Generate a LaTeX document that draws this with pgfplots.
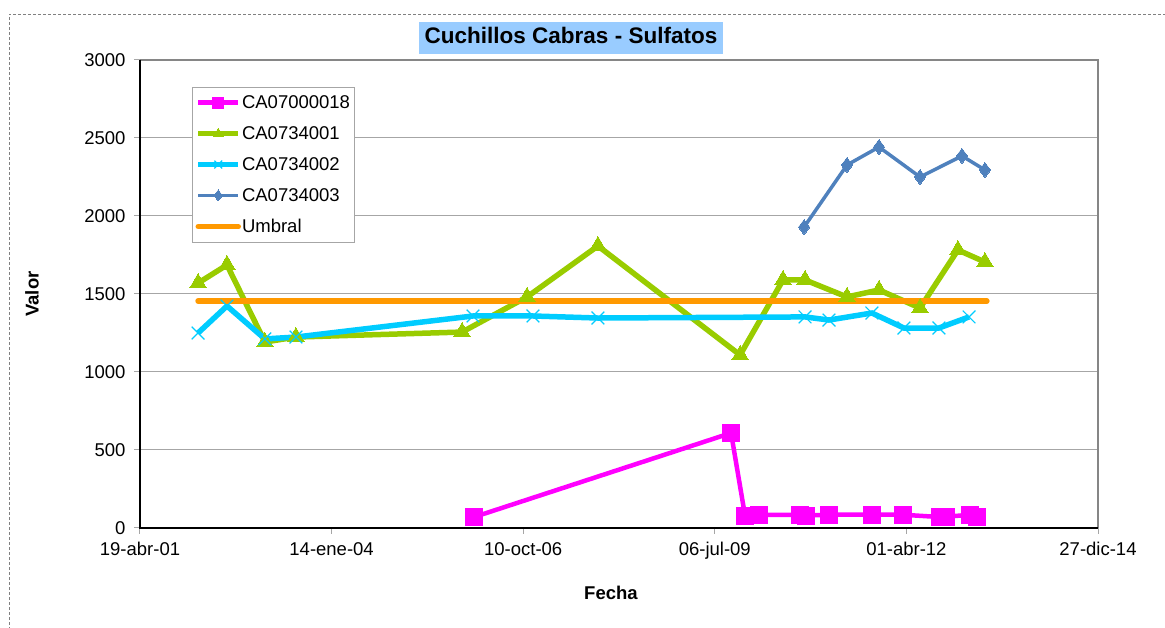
\documentclass[border=0pt]{standalone}
\usepackage{fontspec}
\setmainfont{Liberation Sans}
\usepackage{pgfplots}
\pgfplotsset{compat=1.18}

\definecolor{cMag}{HTML}{FF00FF}
\definecolor{cGreen}{HTML}{99CC00}
\definecolor{cCyan}{HTML}{00CCFF}
\definecolor{cBlue}{HTML}{4F81BD}
\definecolor{cOrange}{HTML}{FF9900}
\definecolor{gridgray}{HTML}{A6A6A6}
\definecolor{framegray}{HTML}{868686}
\definecolor{titlebg}{HTML}{99CCFF}

\newcommand{\tickfont}{\fontsize{18.5}{21}\selectfont}

\begin{document}
\begin{tikzpicture}
\useasboundingbox (0pt,0pt) rectangle (1165pt,628pt);
% outer dashed chart frame (runs off the right and bottom)
\draw[gray, line width=0.8pt, dash pattern=on 3pt off 2pt] (9pt,-2pt) -- (9pt,614pt) -- (1170pt,614pt);

\begin{axis}[
    scale only axis,
    width=958pt, height=468pt,
    at={(140pt,100pt)}, anchor=south west,
    xmin=0, xmax=5000, ymin=0, ymax=3000,
    xtick={0,1000,...,5000},
    xticklabels={19-abr-01,14-ene-04,10-oct-06,06-jul-09,01-abr-12,27-dic-14},
    ytick={0,500,...,3000},
    /pgf/number format/1000 sep={},
    /pgf/number format/assume math mode=true,
    ticklabel style={font=\tickfont},
    xticklabel style={yshift=-5pt},
    yticklabel style={xshift=-5pt},
    ymajorgrids,
    grid style={draw=gridgray, line width=1pt},
    tick align=outside, tick pos=left,
    major tick length=6pt,
    tick style={draw=gridgray, line width=1pt},
    axis line style={draw=none},
    xlabel={Fecha}, ylabel={Valor},
    every axis x label/.style={at={(axis description cs:0.4916,-0.1389)}, anchor=center,
        font=\tickfont\bfseries},
    every axis y label/.style={at={(axis description cs:-0.1127,0.5)}, rotate=90, anchor=center,
        font=\tickfont\bfseries},
    legend style={at={(0.0543,0.9423)}, anchor=north west, draw=gridgray, line width=1pt,
        fill=white, font=\tickfont, row sep=12.5pt, inner xsep=3pt, inner ysep=6pt,
        nodes={inner xsep=1pt}},
    legend cell align=left,
    legend image code/.code={\draw[mark repeat=2,mark phase=2] plot coordinates {(0pt,0pt)(20pt,0pt)(40pt,0pt)};},
    legend image post style={mark size=5.5pt},
    after end axis/.code={
        \draw[framegray, line width=2pt] (rel axis cs:0,1) -- (rel axis cs:1,1) -- (rel axis cs:1,0);
        \draw[black, line width=1.2pt] (rel axis cs:0,1) -- (rel axis cs:0,0) -- (rel axis cs:1,0);
    },
]
% CA07000018
\addplot[cMag, line width=4.5pt, mark=square*, mark size=8.5pt, mark options={line width=0pt}] coordinates {
    (1743,70)(3085,609)(3158,77)(3231,83)(3445,85)(3476,80)(3596,85)
    (3820,85)(3982,85)(4175,70)(4207,72)(4332,85)(4368,70)
};
\addlegendentry{CA07000018}
% CA0734001
\addplot[cGreen, line width=5.5pt, mark=triangle*, mark size=9.5pt, mark options={line width=0pt}] coordinates {
    (303,1570)(454,1686)(652,1192)(814,1224)(1681,1256)(2020,1481)(2390,1808)
    (3132,1109)(3356,1590)(3471,1590)(3690,1481)(3857,1526)(4071,1410)(4269,1782)(4410,1705)
};
\addlegendentry{CA0734001}
% CA0734002
\addplot[cCyan, line width=5.5pt, mark=x, mark size=9pt, mark options={line width=1.2pt}] coordinates {
    (303,1250)(454,1423)(652,1212)(814,1224)(1738,1359)(2051,1359)(2390,1346)
    (3471,1353)(3596,1333)(3820,1378)(3987,1282)(4170,1282)(4327,1353)
};
\addlegendentry{CA0734002}
% CA0734003
\addplot[cBlue, line width=3.5pt, mark=diamond*, mark size=7.5pt, mark options={line width=0pt}] coordinates {
    (3466,1929)(3690,2327)(3857,2442)(4071,2250)(4290,2385)(4410,2295)
};
\addlegendentry{CA0734003}
% Umbral
\addplot[cOrange, line width=5.5pt, line cap=round] coordinates {
    (303,1455)(4420,1455)
};
\addlegendentry{Umbral}
\end{axis}

\node[fill=titlebg, font=\fontsize{22.5}{26}\selectfont\bfseries, inner xsep=6pt, inner ysep=5pt,
      text height=17pt, text depth=5pt] at (571pt,590pt) {Cuchillos Cabras - Sulfatos};
\end{tikzpicture}
\end{document}
